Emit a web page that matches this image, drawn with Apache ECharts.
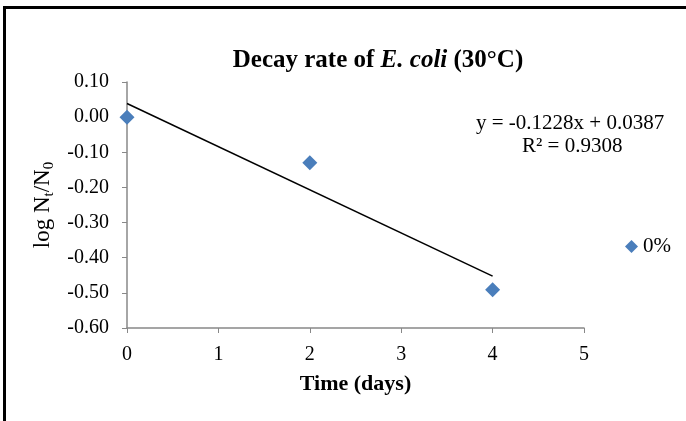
<!DOCTYPE html>
<html>
<head>
    <meta charset="utf-8" />
    <title>Decay rate of E. coli</title>
    <script src="https://cdn.jsdelivr.net/npm/echarts@6/dist/echarts.min.js"></script>
    <style type="text/css">
        * { margin: 0; padding: 0; }
        html, body { width: 686px; height: 421px; background: #fff; }
        #chart { width: 686px; height: 421px; }
    </style>
</head>
<body>
    <div id="chart"></div>
</body>
</html>
<script type="text/javascript">
    // data
    var days = [0, 2, 4];
    var logRatio = [0.0, -0.1295, -0.4912];
    var trendX = [0, 4];
    var trendY = [0.0387, -0.4525];
    var seriesName = '0%';
    var equationText = 'y = -0.1228x + 0.0387';
    var r2Text = 'R² = 0.9308';

    var serif = '"Liberation Serif", "DejaVu Serif", serif';

    var points = days.map(function (d, i) { return [d, logRatio[i]]; });
    var trend = trendX.map(function (d, i) { return [d, trendY[i]]; });

    var myChart = echarts.init(document.getElementById('chart'));

    var option = {
        animation: false,
        backgroundColor: '#fff',
        textStyle: { fontFamily: serif },
        title: {
            text: '{b|Decay rate of }{bi|E. coli}{b| (30°C)}',
            left: 373,
            textAlign: 'center',
            top: 43,
            textStyle: {
                rich: {
                    b: { fontFamily: serif, fontWeight: 'bold', fontSize: 25, color: '#000' },
                    bi: { fontFamily: serif, fontWeight: 'bold', fontStyle: 'italic', fontSize: 25, color: '#000' }
                }
            }
        },
        legend: {
            data: [seriesName],
            left: 620,
            top: 231,
            icon: 'diamond',
            itemWidth: 13,
            itemHeight: 13,
            itemGap: 5,
            itemStyle: { opacity: 1 },
            textStyle: { fontFamily: serif, fontSize: 21, color: '#000' }
        },
        grid: { left: 127, right: 102, top: 82, bottom: 93 },
        xAxis: {
            type: 'value',
            min: 0, max: 5, interval: 1,
            name: 'Time (days)',
            nameLocation: 'middle',
            nameGap: 45,
            nameTextStyle: { fontFamily: serif, fontWeight: 'bold', fontSize: 22, color: '#000' },
            splitLine: { show: false },
            axisLine: { onZero: false, lineStyle: { color: '#888', width: 1.5 } },
            axisTick: { length: 5, lineStyle: { color: '#888' } },
            axisLabel: { fontFamily: serif, fontSize: 20, color: '#000', margin: 17 }
        },
        yAxis: {
            type: 'value',
            min: -0.6, max: 0.1, interval: 0.1,
            name: '{n|log N}{s|t}{n|/N}{s|0}',
            nameLocation: 'middle',
            nameRotate: 90,
            nameGap: 64,
            nameTextStyle: {
                rich: {
                    n: { fontFamily: serif, fontSize: 23, color: '#000', lineHeight: 26 },
                    s: { fontFamily: serif, fontSize: 15, color: '#000', lineHeight: 26, padding: [12, 0, 0, 0] }
                }
            },
            splitLine: { show: false },
            axisLine: { show: true, onZero: false, lineStyle: { color: '#888', width: 1.5 } },
            axisTick: { show: true, length: 5, lineStyle: { color: '#888' } },
            axisLabel: {
                fontFamily: serif, fontSize: 20, color: '#000', margin: 18,
                formatter: function (v) { return v.toFixed(2); }
            }
        },
        graphic: [
            {
                type: 'text',
                left: 476, top: 113,
                style: { text: equationText, font: '21px ' + serif, fill: '#000' }
            },
            {
                type: 'text',
                left: 522, top: 136,
                style: { text: r2Text, font: '21px ' + serif, fill: '#000' }
            },
            {
                type: 'line',
                shape: { x1: 4.5, y1: 7.5, x2: 686, y2: 7.5 },
                style: { stroke: '#000', lineWidth: 3 }
            },
            {
                type: 'line',
                shape: { x1: 4.5, y1: 6, x2: 4.5, y2: 421 },
                style: { stroke: '#000', lineWidth: 3 }
            }
        ],
        series: [
            {
                name: 'trend',
                type: 'line',
                data: trend,
                symbol: 'none',
                lineStyle: { color: '#000', width: 1.5 },
                z: 1
            },
            {
                name: seriesName,
                type: 'scatter',
                data: points,
                symbol: 'diamond',
                symbolSize: 15,
                itemStyle: { color: '#4A7EBB', opacity: 1 },
                z: 3
            }
        ]
    };

    myChart.setOption(option);
</script>
